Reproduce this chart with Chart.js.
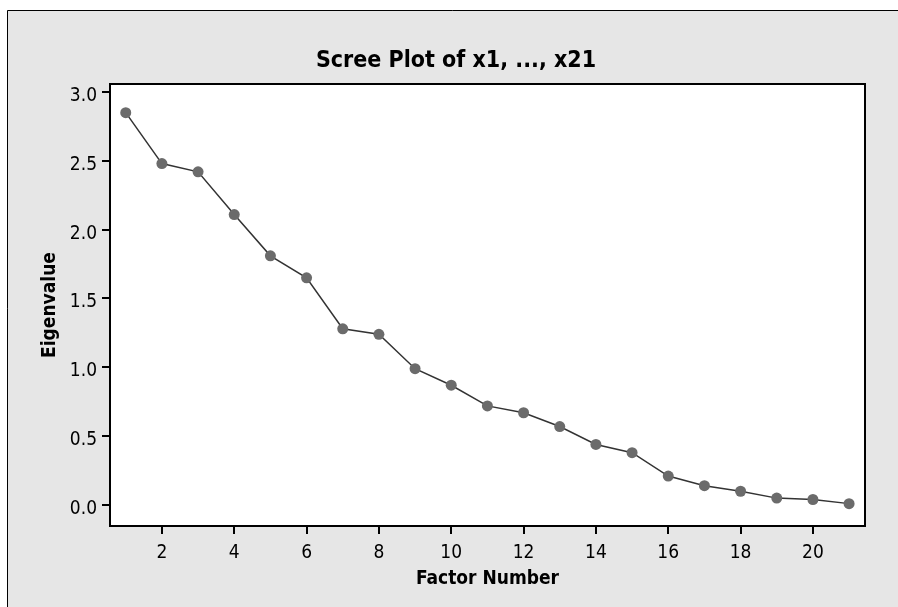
<!DOCTYPE html>
<html>
<head>
<meta charset="utf-8">
<script src="https://cdn.jsdelivr.net/npm/chart.js@4.4.0/dist/chart.umd.min.js"></script>
<style>
    body { margin: 0; background: #ffffff; }
    canvas { display: block; }
</style>
</head>
<body>
<canvas id="screeChart" width="898" height="607"></canvas>
<script>
// Chart values
const factorNumbers = [1, 2, 3, 4, 5, 6, 7, 8, 9, 10, 11, 12, 13, 14, 15, 16, 17, 18, 19, 20, 21];
const eigenvalues = [2.85, 2.48, 2.42, 2.11, 1.81, 1.65, 1.28, 1.24, 0.99, 0.87, 0.72, 0.67, 0.57, 0.44, 0.38, 0.21, 0.14, 0.10, 0.05, 0.04, 0.01];
const xTickValues = [2, 4, 6, 8, 10, 12, 14, 16, 18, 20];
const yTickValues = [0.0, 0.5, 1.0, 1.5, 2.0, 2.5, 3.0];

const chartTitle = "Scree Plot of x1, ..., x21";
const xTitle = "Factor Number";
const yTitle = "Eigenvalue";

const FONT = "'DejaVu Sans Condensed', 'DejaVu Sans', sans-serif";

document.addEventListener("DOMContentLoaded", () => {
    const points = factorNumbers.map((f, i) => ({ x: f, y: eigenvalues[i] }));

    // Gray frame, white plot area, title and plot box
    const framePlugin = {
        id: "frame",
        beforeDraw(chart) {
            const { ctx, width, height, chartArea } = chart;
            ctx.save();
            ctx.fillStyle = "#ffffff";
            ctx.fillRect(0, 0, width, height);
            ctx.fillStyle = "#e6e6e6";
            ctx.fillRect(7, 10, width, height);
            ctx.strokeStyle = "#000000";
            ctx.lineWidth = 1;
            ctx.beginPath();
            ctx.moveTo(7.5, height);
            ctx.lineTo(7.5, 10.5);
            ctx.lineTo(width, 10.5);
            ctx.stroke();
            ctx.fillStyle = "#ffffff";
            ctx.fillRect(chartArea.left, chartArea.top,
                chartArea.right - chartArea.left, chartArea.bottom - chartArea.top);

            ctx.fillStyle = "#000000";
            ctx.font = "bold 23px " + FONT;
            ctx.textAlign = "center";
            ctx.textBaseline = "alphabetic";
            ctx.fillText(chartTitle, 456, 66.5);
            ctx.restore();
        },
        afterDraw(chart) {
            const { ctx, chartArea } = chart;
            ctx.save();
            ctx.strokeStyle = "#000000";
            ctx.lineWidth = 2;
            ctx.strokeRect(chartArea.left, chartArea.top,
                chartArea.right - chartArea.left, chartArea.bottom - chartArea.top);
            ctx.restore();
        }
    };

    const ctx = document.getElementById("screeChart").getContext("2d");
    new Chart(ctx, {
        type: "line",
        data: {
            datasets: [{
                data: points,
                borderColor: "#333333",
                borderWidth: 1.5,
                pointBackgroundColor: "#6b6b6b",
                pointBorderColor: "#6b6b6b",
                pointBorderWidth: 0,
                pointRadius: 5.5,
                tension: 0
            }]
        },
        options: {
            responsive: false,
            animation: false,
            layout: {
                padding: { top: 84, right: 33, left: 0, bottom: 0 }
            },
            plugins: {
                legend: { display: false },
                tooltip: { enabled: false },
                title: { display: false }
            },
            scales: {
                x: {
                    type: "linear",
                    min: 0.565,
                    max: 21.44,
                    afterBuildTicks: (scale) => {
                        scale.ticks = xTickValues.map(v => ({ value: v }));
                    },
                    afterFit: (scale) => { scale.height = 81; },
                    border: { display: false },
                    grid: {
                        drawOnChartArea: false,
                        drawTicks: true,
                        tickLength: 8,
                        color: "#000000",
                        lineWidth: 2
                    },
                    ticks: {
                        color: "#000000",
                        padding: 7.5,
                        maxRotation: 0,
                        autoSkip: false,
                        font: { family: FONT, size: 19 },
                        callback: (v) => String(v)
                    },
                    title: {
                        display: true,
                        text: xTitle,
                        color: "#000000",
                        padding: { top: 0, bottom: 17 },
                        font: { family: FONT, size: 19, weight: "bold" }
                    }
                },
                y: {
                    type: "linear",
                    min: -0.1525,
                    max: 3.058,
                    afterBuildTicks: (scale) => {
                        scale.ticks = yTickValues.map(v => ({ value: v }));
                    },
                    afterFit: (scale) => { scale.width = 110; },
                    border: { display: false },
                    grid: {
                        drawOnChartArea: false,
                        drawTicks: true,
                        tickLength: 8,
                        color: "#000000",
                        lineWidth: 2
                    },
                    ticks: {
                        color: "#000000",
                        padding: 5,
                        labelOffset: 4,
                        autoSkip: false,
                        font: { family: FONT, size: 19 },
                        callback: (v) => Number(v).toFixed(1)
                    },
                    title: {
                        display: true,
                        text: yTitle,
                        color: "#000000",
                        padding: { top: 39, bottom: 0 },
                        font: { family: FONT, size: 19, weight: "bold" }
                    }
                }
            }
        },
        plugins: [framePlugin]
    });
});
</script>
</body>
</html>
